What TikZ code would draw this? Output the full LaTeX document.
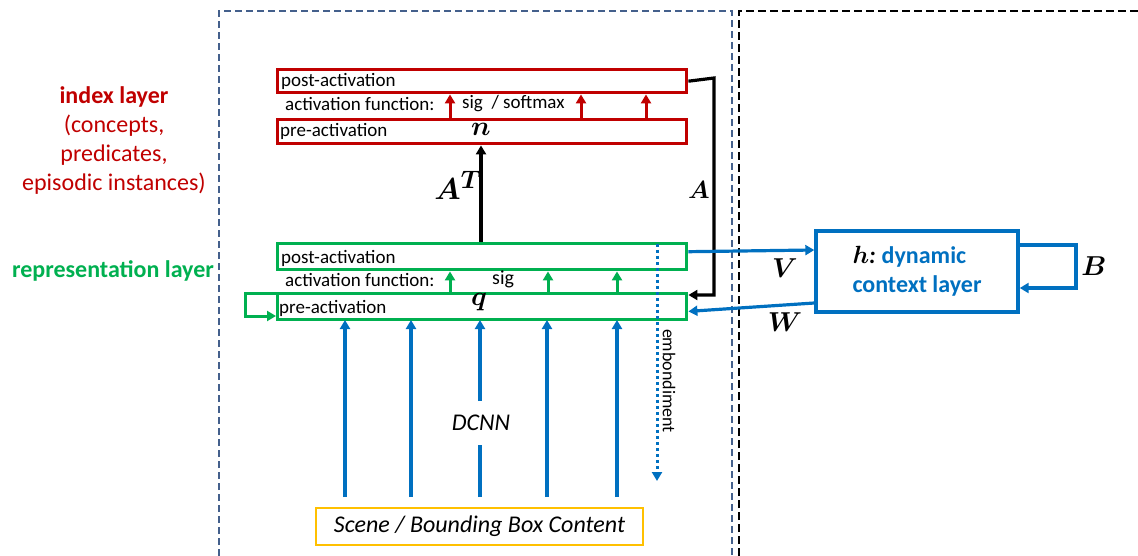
\documentclass[tikz,border=0pt]{standalone}
\usepackage{fontspec}
\setmainfont{Carlito}
\usepackage{amsmath,bm}
\usetikzlibrary{arrows.meta}
\definecolor{idxred}{RGB}{192,0,0}
\definecolor{repgreen}{RGB}{0,176,80}
\definecolor{ctxblue}{RGB}{0,112,192}
\definecolor{scyellow}{RGB}{255,192,0}
\definecolor{dashblue}{RGB}{68,96,140}
\tikzset{
  box/.style={draw, line width=3.4pt, minimum height=24pt, minimum width=409pt, anchor=north west, inner sep=0pt},
  redbox/.style={box, draw=idxred},
  greenbox/.style={box, draw=repgreen},
  boxtext/.style={anchor=west, font=\fontsize{19}{21}\selectfont, inner sep=0pt},
  tip/.style={-{Triangle[width=10pt,length=9pt]}},
  redarr/.style={tip, draw=idxred, line width=3pt},
  greenarr/.style={tip, draw=repgreen, line width=3pt},
  bluearr/.style={tip, draw=ctxblue, line width=3.2pt},
  blackarr/.style={tip, draw=black, line width=3.2pt},
  mathlbl/.style={font=\fontsize{24.88}{26}\selectfont, inner sep=0pt},
}
\begin{document}
\begin{tikzpicture}[x=1pt,y=-1pt]
\useasboundingbox (0,0) rectangle (1138,556);
% dashed frames
\draw[dashblue, line width=2.3pt, dash pattern=on 7pt off 4pt] (219,556) -- (219,11) -- (732,11) -- (732,556);
\draw[black, line width=2.3pt, dash pattern=on 8pt off 4pt] (739,556) -- (739,11) -- (1138,11);

% left labels
\node[align=center, text=idxred, font=\fontsize{24}{29}\selectfont] (idx) at (114,141)
  {\textbf{index layer}\\(concepts,\\predicates,\\episodic instances)};
\node[text=repgreen, font=\bfseries\fontsize{24}{26}\selectfont] (rep) at (113,271) {representation layer};

% index layer boxes
\node[redbox, minimum height=23pt] (rpost) at (276,68) {};
\node[boxtext] (rposttxt) at ([xshift=5pt]rpost.west) {post-activation};
\node[redbox] (rpre) at (276,118) {};
\node[boxtext] (rpretxt) at ([xshift=4pt]rpre.west) {pre-activation};
\node[mathlbl] (nlbl) at (481,129) {\scalebox{1.1}{$\bm{n}$}};
\node[boxtext] (raf) at (285,104) {activation function:};
\node[boxtext] (rsig) at (462,104) {sig\ \ / softmax};
\foreach \dx in {174,305,370}
  \draw[redarr] ([xshift=\dx pt]rpre.north west) -- ([xshift=\dx pt]rpost.south west);

% representation layer boxes
\node[greenbox, minimum height=26pt] (gpost) at (276,242) {};
\node[boxtext] (gposttxt) at ([xshift=5pt,yshift=-2pt]gpost.west) {post-activation};
\node[greenbox, minimum height=26pt] (gpre) at (276,292) {};
\node[boxtext] (gpretxt) at ([xshift=3pt,yshift=-2pt]gpre.west) {pre-activation};
\node[mathlbl] (qlbl) at (479,302) {\scalebox{1.1}{$\bm{q}$}};
\node[boxtext] (gaf) at (285,280) {activation function:};
\node[boxtext, font=\fontsize{20}{22}\selectfont] (gsig) at (492,279) {sig};
\foreach \dx in {174,272,341}
  \draw[greenarr] ([xshift=\dx pt]gpre.north west) -- ([xshift=\dx pt]gpost.south west);
% green self loop
\coordinate (gl1) at (245,293);
\coordinate (gl2) at (245,316);
\draw[greenarr] ([yshift=-1pt]gpre.north west) -- (gl1) -- (gl2) -- (gl2 -| gpre.west);

% A^T
\draw[blackarr] (gpost.north -| nlbl) -- (rpre.south -| nlbl);
\node[mathlbl] (AT) at (458,185) {\scalebox{1.22}{$\bm{A}^{\bm{T}}$}};
% A
\coordinate (Acor) at (714,78);
\coordinate (Abot) at (714,295);
\draw[blackarr] (rpost.east) -- (Acor) -- (Abot) -- (Abot -| gpre.east);
\node[mathlbl] (Albl) at (699,190) {$\bm{A}$};

% scene box and DCNN arrows
\node[draw=scyellow, line width=2.8pt, minimum width=327pt, minimum height=37pt, inner sep=0pt,
      font=\itshape\fontsize{24}{26}\selectfont] (scene) at (479.5,526.5) {Scene / Bounding Box Content};
\node[font=\itshape\fontsize{24}{26}\selectfont, inner sep=0pt] (dcnn) at (481,423) {DCNN};
\foreach \xx in {345,411,547,617}
  \draw[bluearr] (\xx,497) -- (\xx,320);
\draw[draw=ctxblue, line width=3.2pt] (480,497) -- (480,445);
\draw[bluearr] (480,401) -- (480,320);

% embodiment
\coordinate (emb1) at (657,244);
\coordinate (emb2) at (657,481);
\draw[ctxblue, line width=3pt, dash pattern=on 3pt off 3pt, -{Triangle[width=10pt,length=9pt]}] (emb1) -- (emb2);
\node[rotate=-90, font=\fontsize{18}{19}\selectfont, inner sep=0pt] (embtxt) at (669,381) {embondiment};

% context layer
\node[draw=ctxblue, line width=3.4pt, minimum width=202pt, minimum height=81pt, inner sep=0pt, align=left,
      text=ctxblue, font=\bfseries\fontsize{24}{29}\selectfont] (ctx) at (917,271.5)
  {\textcolor{black}{$\bm{h}$\textit{:}}\hspace{6pt}dynamic\\context layer};
\draw[bluearr] ([yshift=5pt]gpost.east) -- (ctx.west |- 0,250);
\node[mathlbl] (V) at (785,268) {\scalebox{1.1}{$\bm{V}$}};
\draw[bluearr] (ctx.west |- 0,303) -- ([yshift=10pt]gpre.south east);
\node[mathlbl] (W) at (785,322) {\scalebox{1.1}{$\bm{W}$}};
\coordinate (bl) at (1076,245);
\coordinate (bl2) at (1076,288);
\draw[bluearr] (ctx.east |- bl) -- (bl) -- (bl2) -- (bl2 -| ctx.east);
\node[mathlbl] (B) at (1094,266) {\scalebox{1.1}{$\bm{B}$}};
\end{tikzpicture}
\end{document}
